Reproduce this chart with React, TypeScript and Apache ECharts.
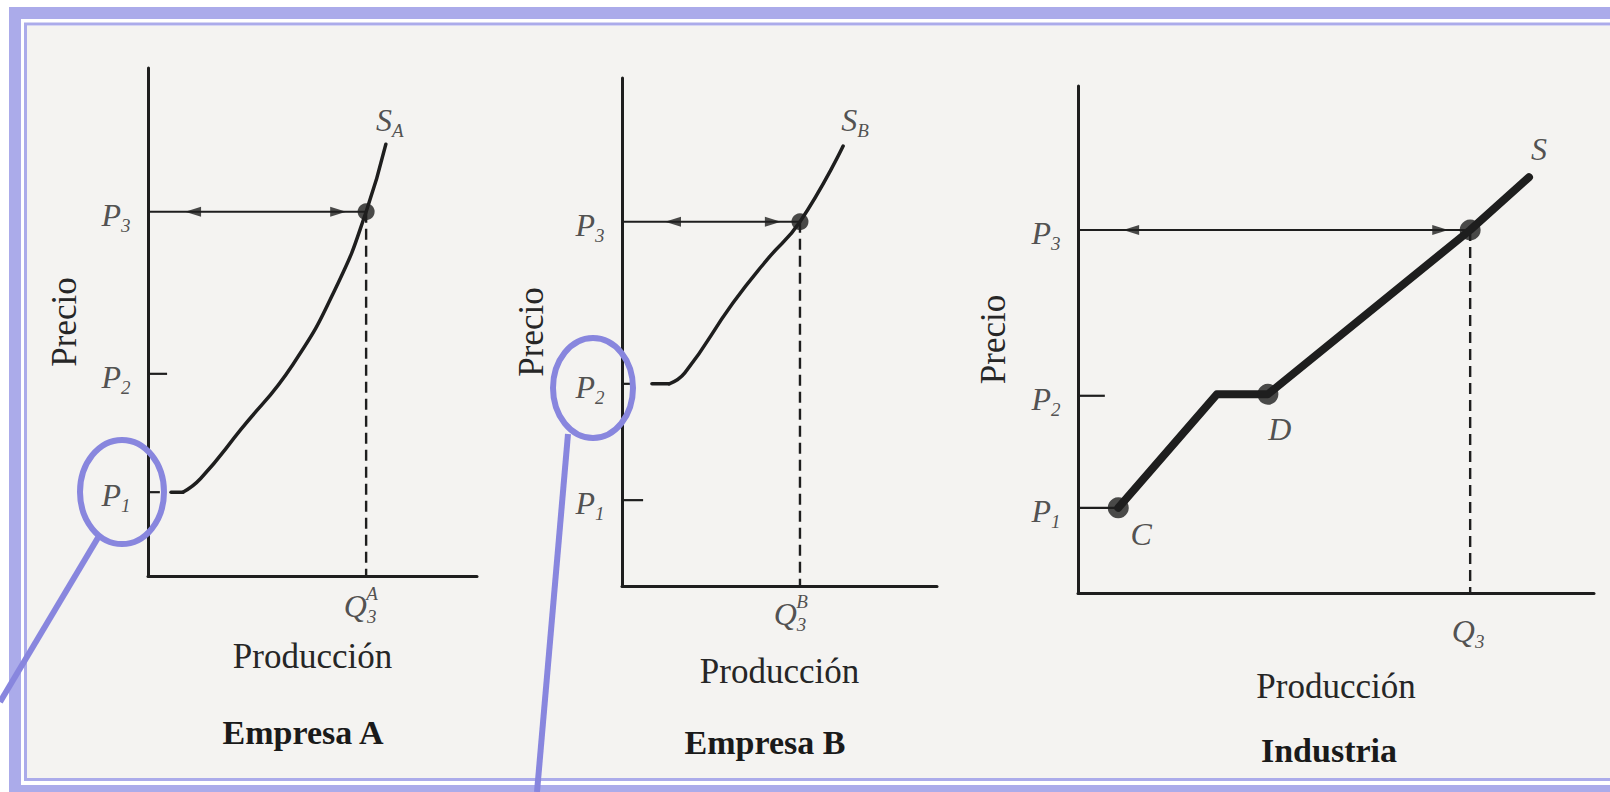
import React, { useEffect, useRef } from "react";
import * as echarts from "echarts";

const SERIF = "'Liberation Serif', 'DejaVu Serif', serif";
const INK = "#1e1e1e";
const TEXT = "#262626";

// ---- data ----
const panelTitles = ["Empresa A", "Empresa B", "Industria"];
const xAxisName = "Producción";
const yAxisName = "Precio";
const priceSubs = ["1", "2", "3"];
const supplyNames = ["A", "B", ""];
const qSup = ["A", "B", ""];
const qSub = "3";

const priceA = [1.65, 3.98, 7.17];
const priceB = [1.69, 3.98, 7.17];
const priceC = [1.68, 3.89, 7.16];

// flat start of each firm's supply (shutdown price segment)
const flatA = [[0.7, 1.65], [1.06, 1.65]];
const flatB = [[0.95, 3.98], [1.5, 3.98]];
// rising part of each supply curve
const supplyA = [[1.06, 1.65], [1.6, 1.92], [2.83, 2.89], [4.41, 4.17], [5.78, 5.77], [6.63, 7.17], [7.23, 8.5]];
const supplyB = [[1.5, 3.98], [2.0, 4.2], [3.52, 5.57], [4.6, 6.42], [5.65, 7.17], [7.02, 8.66]];
const supplyC = [[0.78, 1.68], [2.69, 3.92], [3.68, 3.92], [7.6, 7.16], [8.74, 8.2]];

const quantityEq = [6.63, 5.65, 7.6];
const tickLenP1 = [0.36, 0.67, 0.78];
const tickLenP2 = [0.58, 0.35, 0.52];
const arrowHeadsA = [1.37, 5.78];
const arrowHeadsB = [1.62, 4.79];
const arrowHeadsC = [1.03, 7.02];
const pointC = [0.78, 1.68];
const pointD = [3.68, 3.92];

const prices = [priceA, priceB, priceC];
const flats = [flatA, flatB, null];
const supplies = [supplyA, supplyB, supplyC];
const arrowHeads = [arrowHeadsA, arrowHeadsB, arrowHeadsC];

// ---- layout ----
const grids = [
  { left: 148, top: 68, width: 329, height: 508 },
  { left: 622, top: 78, width: 315, height: 508 },
  { left: 1078, top: 86, width: 516, height: 507 },
];
const xNameGap = [63, 68, 76];
const yNameGap = [66, 73, 67];
const titlePos = [[303, 732], [765, 742], [1329, 750]];
const qLabelOffset = [[-6, 30], [-10, 28], [-2, 38]];
const sLabelOffset = [[4, -24], [12, -26], [10, -28]];

const rich = {
  p: { fontFamily: SERIF, fontStyle: "italic", fontSize: 32, lineHeight: 40, color: TEXT },
  s: { fontFamily: SERIF, fontStyle: "italic", fontSize: 19, lineHeight: 22, verticalAlign: "bottom", color: TEXT },
  t: { fontFamily: SERIF, fontStyle: "italic", fontSize: 19, lineHeight: 22, color: TEXT },
};

function seg(i: number, pts: number[][], width: number, type: any = "solid", color: string = INK) {
  return {
    type: "line",
    xAxisIndex: i,
    yAxisIndex: i,
    data: pts,
    symbol: "none",
    silent: true,
    lineStyle: { color, width, type, cap: "butt" },
    z: 3,
  };
}

function labelPoint(i: number, pt: number[], text: string, offset: number[]) {
  return {
    type: "scatter",
    xAxisIndex: i,
    yAxisIndex: i,
    symbolSize: 1,
    silent: true,
    itemStyle: { color: "rgba(0,0,0,0)" },
    data: [pt],
    label: { show: true, position: "inside", formatter: text, offset, rich },
    z: 6,
  };
}

function buildSeries() {
  const out: any[] = [];
  for (let i = 0; i < 3; i++) {
    const P = prices[i];
    const q = quantityEq[i];
    const isInd = i === 2;
    const flat = flats[i];
    if (flat) {
      out.push({
        type: "line",
        xAxisIndex: i,
        yAxisIndex: i,
        data: flat,
        symbol: "none",
        silent: true,
        lineStyle: { color: INK, width: 3.5, cap: "round" },
        z: 4,
      });
    }
    // supply curve
    out.push({
      type: "line",
      xAxisIndex: i,
      yAxisIndex: i,
      data: supplies[i],
      symbol: "none",
      silent: true,
      smooth: isInd ? false : 0.5,
      lineStyle: { color: INK, width: isInd ? 8 : 3.5, cap: "round", join: "round" },
      z: 4,
    });
    // ticks
    out.push(seg(i, [[0, P[0]], [tickLenP1[i], P[0]]], 2.2));
    out.push(seg(i, [[0, P[1]], [tickLenP2[i], P[1]]], 2.2));
    // price line P3 to equilibrium
    out.push(seg(i, [[0, P[2]], [q, P[2]]], 2.2));
    // dashed drop to quantity axis
    out.push(seg(i, [[q, P[2]], [q, 0]], 2.4, [11, 6]));
    // arrow heads
    out.push({
      type: "scatter",
      xAxisIndex: i,
      yAxisIndex: i,
      silent: true,
      symbol: "triangle",
      symbolSize: [10, 16],
      itemStyle: { color: INK },
      data: [
        { value: [arrowHeads[i][0], P[2]], symbolRotate: 90 },
        { value: [arrowHeads[i][1], P[2]], symbolRotate: -90 },
      ],
      z: 5,
    });
    // equilibrium dot
    out.push({
      type: "scatter",
      xAxisIndex: i,
      yAxisIndex: i,
      silent: true,
      symbolSize: isInd ? 21 : 17,
      itemStyle: { color: INK },
      data: [[q, P[2]]],
      z: 5,
    });
    // price labels
    for (let k = 0; k < 3; k++) {
      out.push(labelPoint(i, [0, P[k]], `{p|P}{s|${priceSubs[k]}}`, [-32, 3]));
    }
    // quantity label
    const qo = qLabelOffset[i];
    out.push(labelPoint(i, [q, 0], `{p|Q}{s|${qSub}}`, qo));
    if (qSup[i]) out.push(labelPoint(i, [q, 0], `{t|${qSup[i]}}`, [qo[0] + 12, qo[1] - 13]));
    // supply label
    const end = supplies[i][supplies[i].length - 1];
    const sText = supplyNames[i] ? `{p|S}{s|${supplyNames[i]}}` : `{p|S}`;
    out.push(labelPoint(i, end, sText, sLabelOffset[i]));
  }
  // industry points C and D
  out.push({
    type: "scatter",
    xAxisIndex: 2,
    yAxisIndex: 2,
    silent: true,
    symbolSize: 21,
    itemStyle: { color: INK },
    data: [pointC, pointD],
    z: 5,
  });
  out.push(labelPoint(2, pointC, "{p|C}", [23, 26]));
  out.push(labelPoint(2, pointD, "{p|D}", [12, 35]));
  return out;
}

function buildOption() {
  const nameStyle = { fontFamily: SERIF, fontSize: 35, color: TEXT };
  const axisLine = { show: true, onZero: false, lineStyle: { color: INK, width: 3 } };
  const xAxis = grids.map((_, i) => ({
    gridIndex: i,
    type: "value",
    min: 0,
    max: 10,
    axisLine,
    axisTick: { show: false },
    axisLabel: { show: false },
    splitLine: { show: false },
    name: xAxisName,
    nameLocation: "middle",
    nameGap: xNameGap[i],
    nameTextStyle: nameStyle,
  }));
  const yAxis = grids.map((_, i) => ({
    gridIndex: i,
    type: "value",
    min: 0,
    max: 10,
    axisLine,
    axisTick: { show: false },
    axisLabel: { show: false },
    splitLine: { show: false },
    name: yAxisName,
    nameLocation: "middle",
    nameRotate: 90,
    nameGap: yNameGap[i],
    nameTextStyle: nameStyle,
  }));
  const LAV = "#ababea";
  const CIRC = "#8886de";
  const graphic: any[] = [
    { type: "rect", silent: true, z: -10, shape: { x: 27, y: 26, width: 1600, height: 752 }, style: { fill: "#f4f3f1" } },
    { type: "rect", silent: true, z: -9, shape: { x: 15, y: 13, width: 1630, height: 778 }, style: { fill: "none", stroke: LAV, lineWidth: 12 } },
    { type: "rect", silent: true, z: -9, shape: { x: 25.5, y: 24, width: 1620, height: 755.5 }, style: { fill: "none", stroke: LAV, lineWidth: 3 } },
    { type: "ellipse", silent: true, z: 100, shape: { cx: 122, cy: 492, rx: 42, ry: 52 }, style: { fill: "none", stroke: CIRC, lineWidth: 6 } },
    { type: "line", silent: true, z: 100, shape: { x1: 99, y1: 536, x2: 0, y2: 702 }, style: { stroke: CIRC, lineWidth: 6 } },
    { type: "ellipse", silent: true, z: 100, shape: { cx: 593, cy: 388, rx: 40, ry: 50 }, style: { fill: "none", stroke: CIRC, lineWidth: 6 } },
    { type: "line", silent: true, z: 100, shape: { x1: 568, y1: 434, x2: 537, y2: 792 }, style: { stroke: CIRC, lineWidth: 6 } },
  ];
  panelTitles.forEach((t, i) => {
    graphic.push({
      type: "text",
      silent: true,
      z: 10,
      x: titlePos[i][0],
      y: titlePos[i][1],
      style: {
        text: t,
        fontFamily: SERIF,
        fontWeight: "bold",
        fontSize: 34,
        fill: "#1a1a1a",
        textAlign: "center",
        textVerticalAlign: "middle",
      },
    });
  });
  return {
    animation: false,
    backgroundColor: "#ffffff",
    grid: grids,
    xAxis,
    yAxis,
    graphic,
    series: buildSeries(),
  };
}

export default function App() {
  const ref = useRef<HTMLDivElement>(null);
  useEffect(() => {
    if (!ref.current) return;
    const chart = echarts.init(ref.current, null, { renderer: "svg" });
    chart.setOption(buildOption() as any);
    return () => chart.dispose();
  }, []);
  return (
    <div
      ref={ref}
      style={{ position: "absolute", left: 0, top: 0, width: 1610, height: 792 }}
    />
  );
}
